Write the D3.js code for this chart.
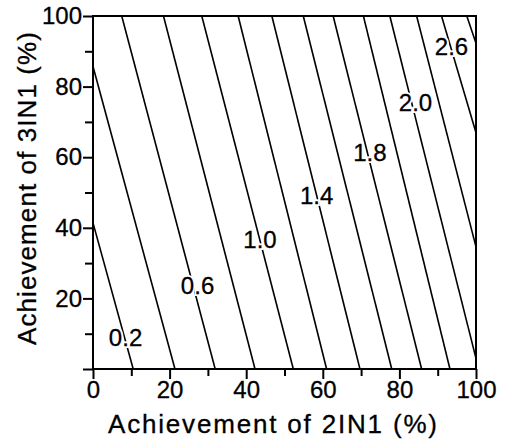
<!DOCTYPE html>
<html lang="en">
<head>
  <meta charset="utf-8" />
  <title>Contour map - 2IN1 vs 3IN1 achievement</title>
  <script src="https://d3js.org/d3.v7.min.js"></script>
  <style>
    html, body {
      margin: 0;
      padding: 0;
      background: #fff;
      overflow: hidden;
    }
    svg text {
      font-family: "Liberation Sans", Arial, sans-serif;
      fill: #000;
    }
    .tick text {
      font-size: 24px;
      stroke: #000;
      stroke-width: 0.3px;
    }
    .tick line { stroke: #000; stroke-width: 2px; }
    .contour { fill: none; stroke: #000; stroke-width: 1.6px; }
    .clabel { font-size: 24px; stroke: #000; stroke-width: 0.3px; }
    .chalo { font-size: 24px; stroke: #fff; stroke-width: 4px; fill: #fff; }
    .title { font-size: 26px; stroke: #000; stroke-width: 0.3px; }
  </style>
</head>
<body>
<script>
// contour levels and where each line enters / leaves the box (data units)
const levels = [0.2, 0.4, 0.6, 0.8, 1.0, 1.2, 1.4, 1.6, 1.8, 2.0, 2.2, 2.4, 2.6, 2.8];
const startX = [0, 0, 7.5, 18.4, 28.4, 37.9, 46.7, 54.9, 62.7, 70.6, 77.5, 84.5, 91.0, 97.6];
const startY = [41.4, 85.7, 100, 100, 100, 100, 100, 100, 100, 100, 100, 100, 100, 100];
const endX   = [10.5, 21.4, 31.9, 42.3, 52.3, 61.0, 69.7, 78.0, 85.8, 93.2, 100, 100, 100, 100];
const endY   = [0, 0, 0, 0, 0, 0, 0, 0, 0, 0, 3.0, 34.6, 66.9, 92.3];

// contour labels as printed on the chart
const labelText = ["0.2", "0.6", "1.0", "1.4", "1.8", "2.0", "2.6"];
const labelX = [8.5, 27.3, 43.6, 58.4, 72.3, 84.2, 93.6];
const labelY = [9.0, 23.8, 36.8, 49.3, 61.3, 75.5, 91.5];

// axis ticks
const xMajor = [0, 20, 40, 60, 80, 100];
const xMinor = [10, 30, 50, 70, 90];
const yMajor = [0, 20, 40, 60, 80, 100];
const yMinor = [10, 30, 50, 70, 90];

const width = 505, height = 443;
const margin = { left: 93, right: 29, top: 16, bottom: 74 };

const svg = d3.select("body").append("svg")
  .attr("width", width)
  .attr("height", height);

const x = d3.scaleLinear().domain([0, 100]).range([margin.left, width - margin.right]);
const y = d3.scaleLinear().domain([0, 100]).range([height - margin.bottom, margin.top]);

// contour lines
const lines = levels.map((lv, i) => ({
  level: lv,
  pts: [[startX[i], startY[i]], [endX[i], endY[i]]]
}));

const lineGen = d3.line().x(d => x(d[0])).y(d => y(d[1]));

svg.append("g")
  .selectAll("path")
  .data(lines)
  .join("path")
  .attr("class", "contour")
  .attr("d", d => lineGen(d.pts));

// labels sit on the lines; a white copy underneath breaks the line
["chalo", "clabel"].forEach(cls => {
  svg.append("g")
    .selectAll("text")
    .data(labelText)
    .join("text")
    .attr("class", cls)
    .attr("x", (d, i) => x(labelX[i]))
    .attr("y", (d, i) => y(labelY[i]))
    .attr("dy", "0.36em")
    .attr("text-anchor", "middle")
    .text(d => d);
});

// axes: minor ticks first, then labelled major ticks
const xAxisG = svg.append("g").attr("transform", `translate(0,${y(0)})`);
xAxisG.append("g")
  .call(d3.axisBottom(x).tickValues(xMinor).tickSize(7).tickFormat(""))
  .call(g => g.select(".domain").remove());
xAxisG.append("g")
  .call(d3.axisBottom(x).tickValues(xMajor).tickSize(10).tickPadding(2).tickFormat(d3.format("d")))
  .call(g => g.select(".domain").remove());

const yAxisG = svg.append("g").attr("transform", `translate(${x(0)},0)`);
yAxisG.append("g")
  .call(d3.axisLeft(y).tickValues(yMinor).tickSize(8).tickFormat(""))
  .call(g => g.select(".domain").remove());
yAxisG.append("g")
  .call(d3.axisLeft(y).tickValues(yMajor).tickSize(10).tickPadding(1)
    .tickFormat(d => d === 0 ? "" : d))
  .call(g => g.select(".domain").remove());

// frame
svg.append("rect")
  .attr("x", x(0))
  .attr("y", y(100))
  .attr("width", x(100) - x(0))
  .attr("height", y(0) - y(100))
  .attr("fill", "none")
  .attr("stroke", "#000")
  .attr("stroke-width", 2);

// axis titles (the scanned type runs wide, so stretch to the measured length)
svg.append("text")
  .attr("class", "title")
  .attr("x", 108)
  .attr("y", 433)
  .attr("textLength", 329)
  .attr("lengthAdjust", "spacing")
  .text("Achievement of 2IN1 (%)");

svg.append("text")
  .attr("class", "title")
  .attr("transform", "translate(36,345) rotate(-90)")
  .attr("textLength", 313)
  .attr("lengthAdjust", "spacing")
  .text("Achievement of 3IN1 (%)");
</script>
</body>
</html>
